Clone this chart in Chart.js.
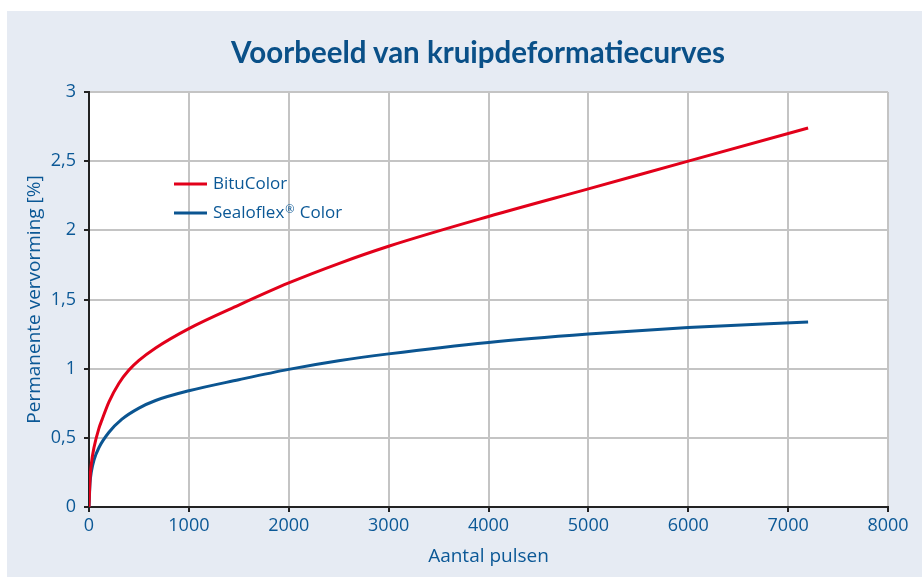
<!DOCTYPE html>
<html>
<head>
<meta charset="utf-8">
<script src="https://cdn.jsdelivr.net/npm/chart.js@4"></script>
<style>
  body { margin: 0; background: #fff; overflow: hidden; }
  #panel { position: absolute; left: 7px; top: 11px; width: 915px; height: 566px; background: #e6ebf3; }
  #title {
    position: absolute; left: 178px; top: 37px; width: 600px;
    text-align: center; font: bold 29.5px/29px Lato, sans-serif; color: #0a5088;
  }
</style>
</head>
<body>
<div id="panel"><canvas id="creepChart" width="915" height="566"></canvas></div>
<div id="title">Voorbeeld van kruipdeformatiecurves</div>
<script>
// waarden
const bituPulses = [0, 10, 25, 50, 100, 130, 200, 300, 400, 500, 667, 1000, 1500, 2000, 2500, 3000, 4000, 5000, 6000, 7200];
const bituValues = [0, 0.2, 0.32, 0.43, 0.57, 0.63, 0.76, 0.895, 0.99, 1.06, 1.15, 1.29, 1.46, 1.62, 1.76, 1.885, 2.10, 2.30, 2.50, 2.74];
const sealPulses = [0, 10, 25, 50, 100, 200, 330, 500, 667, 1000, 1500, 2000, 2500, 3000, 4000, 5000, 6000, 7200];
const sealValues = [0, 0.17, 0.26, 0.34, 0.43, 0.54, 0.635, 0.715, 0.77, 0.84, 0.92, 0.995, 1.057, 1.107, 1.19, 1.25, 1.297, 1.338];
const yTickLabels = ['0', '0,5', '1', '1,5', '2', '2,5', '3'];
const xTickLabels = ['0', '1000', '2000', '3000', '4000', '5000', '6000', '7000', '8000'];

const blue = '#0b5591';
const red = '#e2001a';
const textBlue = '#0b5896';

function toPoints(xs, ys) {
    return xs.map((x, i) => ({ x: x, y: ys[i] }));
}

// witte plotachtergrond
const plotBg = {
    id: 'plotBg',
    beforeDraw(chart) {
        const a = chart.chartArea;
        chart.ctx.save();
        chart.ctx.fillStyle = '#fff';
        chart.ctx.fillRect(a.left, a.top, a.right - a.left, a.bottom - a.top);
        chart.ctx.restore();
    }
};

// legenda binnen het plotvlak
const innerLegend = {
    id: 'innerLegend',
    afterDraw(chart) {
        const ctx = chart.ctx;
        const a = chart.chartArea;
        const x0 = a.left + 85;
        let y = a.top + 92;
        ctx.save();
        chart.data.datasets.forEach(ds => {
            ctx.strokeStyle = ds.borderColor;
            ctx.lineWidth = 3;
            ctx.beginPath();
            ctx.moveTo(x0, y);
            ctx.lineTo(x0 + 33, y);
            ctx.stroke();
            ctx.fillStyle = textBlue;
            ctx.textBaseline = 'middle';
            ctx.font = '17px "Open Sans"';
            let tx = x0 + 39;
            const parts = ds.label.split('®');
            ctx.fillText(parts[0], tx, y);
            if (parts.length > 1) {
                tx += ctx.measureText(parts[0]).width + 1;
                ctx.font = '11px "Open Sans"';
                ctx.fillText('®', tx, y - 3);
                tx += ctx.measureText('®').width + 1;
                ctx.font = '17px "Open Sans"';
                ctx.fillText(parts[1], tx, y);
            }
            y += 29;
        });
        ctx.restore();
    }
};

const ctx = document.getElementById('creepChart').getContext('2d');
const creepChart = new Chart(ctx, {
    type: 'line',
    data: {
        datasets: [{
            label: 'BituColor',
            data: toPoints(bituPulses, bituValues),
            borderColor: red,
            borderWidth: 3,
            pointRadius: 0,
            cubicInterpolationMode: 'monotone'
        }, {
            label: 'Sealoflex® Color',
            data: toPoints(sealPulses, sealValues),
            borderColor: blue,
            borderWidth: 3,
            pointRadius: 0,
            cubicInterpolationMode: 'monotone'
        }]
    },
    options: {
        responsive: false,
        animation: false,
        layout: { padding: { left: 0, right: 34, top: 81, bottom: 0 } },
        plugins: {
            legend: { display: false },
            tooltip: { enabled: false }
        },
        scales: {
            x: {
                type: 'linear',
                min: 0,
                max: 8000,
                afterFit(scale) { scale.height = 70; },
                afterBuildTicks(scale) {
                    scale.ticks = xTickLabels.map(t => ({ value: Number(t) }));
                },
                ticks: {
                    color: textBlue,
                    font: { family: 'Open Sans', size: 18 },
                    padding: 3,
                    maxRotation: 0,
                    callback: (v, i) => xTickLabels[i]
                },
                grid: { color: '#c4c4c4', lineWidth: 2, tickColor: '#222', tickLength: 5 },
                border: { color: '#222', width: 2 },
                title: {
                    display: true,
                    text: 'Aantal pulsen',
                    color: textBlue,
                    font: { family: 'Open Sans', size: 19, lineHeight: 1.2 },
                    padding: { top: 0, bottom: 9 }
                }
            },
            y: {
                min: 0,
                max: 3,
                afterFit(scale) { scale.width = 82; },
                afterBuildTicks(scale) {
                    scale.ticks = yTickLabels.map(t => ({ value: Number(t.replace(',', '.')) }));
                },
                ticks: {
                    color: textBlue,
                    font: { family: 'Open Sans', size: 18 },
                    padding: 8,
                    callback: (v, i) => yTickLabels[i]
                },
                grid: { color: '#c4c4c4', lineWidth: 2, tickColor: '#222', tickLength: 5 },
                border: { color: '#222', width: 2 },
                title: {
                    display: true,
                    text: 'Permanente vervorming [%]',
                    color: textBlue,
                    font: { family: 'Open Sans', size: 19, lineHeight: 1.2 },
                    padding: { top: 16, bottom: 0 }
                }
            }
        }
    },
    plugins: [plotBg, innerLegend]
});
</script>
</body>
</html>
